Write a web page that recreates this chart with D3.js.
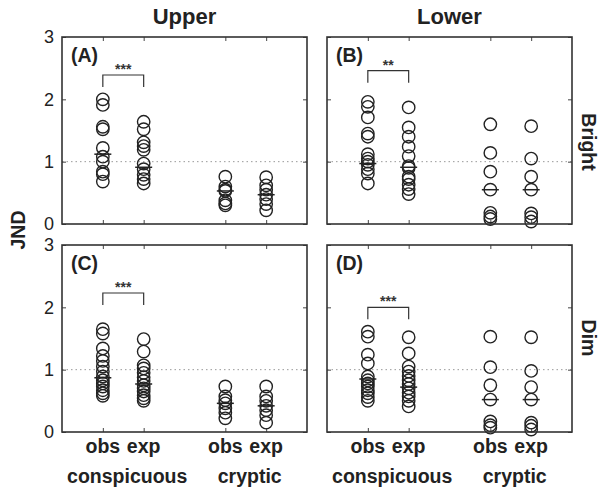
<!DOCTYPE html>
<html>
<head>
<meta charset="utf-8">
<script src="https://cdn.jsdelivr.net/npm/d3@7"></script>
<style>
  body { margin: 0; background: #fff; }
  svg { display: block; font-family: "Liberation Sans", Arial, Helvetica, sans-serif; }
</style>
</head>
<body>
<svg id="chart" width="601" height="491"></svg>
<script>
// ---- data ----
const panelLetters = ["A", "B", "C", "D"];
const colTitles = ["Upper", "Lower"];
const rowTitles = ["Bright", "Dim"];
const rowTitleCenters = [142, 338];
const groupLabels = ["conspicuous", "cryptic"];
const subLabels = ["obs", "exp"];
const yTicks = [0, 1, 2, 3];
const xPositions = [1, 2, 4, 5]; // obs/exp conspicuous, obs/exp cryptic

// each panel: [obs conspicuous, exp conspicuous, obs cryptic, exp cryptic]
const panelA = [
  [2.0, 1.91, 1.56, 1.52, 1.22, 1.08, 1.0, 0.84, 0.80, 0.68],
  [1.64, 1.52, 1.31, 1.25, 1.19, 0.97, 0.88, 0.79, 0.72, 0.65],
  [0.76, 0.60, 0.55, 0.53, 0.38, 0.33, 0.30],
  [0.75, 0.62, 0.55, 0.47, 0.40, 0.32, 0.22]
];
const panelB = [
  [1.96, 1.88, 1.71, 1.45, 1.40, 1.12, 1.05, 1.0, 0.95, 0.88, 0.81, 0.65],
  [1.87, 1.55, 1.40, 1.24, 1.09, 0.93, 0.90, 0.76, 0.72, 0.63, 0.56, 0.48],
  [1.60, 1.14, 0.84, 0.55, 0.18, 0.12, 0.08],
  [1.57, 1.05, 0.76, 0.55, 0.17, 0.11, 0.04]
];
const panelC = [
  [1.65, 1.58, 1.34, 1.22, 1.14, 1.05, 0.97, 0.89, 0.83, 0.78, 0.73, 0.67, 0.62, 0.58],
  [1.49, 1.29, 1.07, 1.02, 0.95, 0.88, 0.82, 0.75, 0.70, 0.65, 0.59, 0.54, 0.50],
  [0.73, 0.57, 0.51, 0.46, 0.38, 0.31, 0.22],
  [0.73, 0.57, 0.50, 0.42, 0.35, 0.27, 0.15]
];
const panelD = [
  [1.61, 1.53, 1.24, 1.10, 0.89, 0.83, 0.78, 0.73, 0.67, 0.62, 0.56, 0.50],
  [1.52, 1.26, 1.05, 0.97, 0.90, 0.83, 0.77, 0.70, 0.63, 0.57, 0.50, 0.41],
  [1.53, 1.04, 0.75, 0.52, 0.17, 0.11, 0.07],
  [1.52, 0.98, 0.72, 0.52, 0.15, 0.10, 0.04]
];
const mediansA = [1.12, 0.91, 0.53, 0.47];
const mediansB = [0.97, 0.91, 0.55, 0.55];
const mediansC = [0.87, 0.77, 0.46, 0.42];
const mediansD = [0.85, 0.72, 0.52, 0.52];
const sigStars = ["***", "**", "***", "***"];
const sigLevels = [2.39, 2.46, 2.23, 2.0];
const referenceLine = 1;

// ---- layout ----
const panelData = [panelA, panelB, panelC, panelD];
const panelMedians = [mediansA, mediansB, mediansC, mediansD];
const colX = [62, 327];
const rowY = [37, 245];
const pw = 245, ph = 187;

const svg = d3.select("#chart");
const x = d3.scaleLinear().domain([0, 6]).range([0, pw]);
const y = d3.scaleLinear().domain([0, 3]).range([ph, 0]);

panelLetters.forEach((letter, i) => {
  const col = i % 2, row = Math.floor(i / 2);
  const g = svg.append("g").attr("transform", `translate(${colX[col]},${rowY[row]})`);

  // dotted reference line
  g.append("line")
    .attr("x1", 0).attr("x2", pw)
    .attr("y1", y(referenceLine)).attr("y2", y(referenceLine))
    .attr("stroke", "#9a9a9a").attr("stroke-width", 1)
    .attr("stroke-dasharray", "1.5,3");

  // inward ticks on all four sides
  const tickStyle = sel => sel.call(s => s.select(".domain").remove())
    .selectAll(".tick line").attr("stroke", "#444").attr("stroke-width", 1);
  g.append("g").attr("transform", `translate(0,${ph})`)
    .call(d3.axisTop(x).tickValues(xPositions).tickSize(4).tickFormat(""))
    .call(tickStyle);
  g.append("g")
    .call(d3.axisBottom(x).tickValues(xPositions).tickSize(4).tickFormat(""))
    .call(tickStyle);
  g.append("g")
    .call(d3.axisRight(y).tickValues(yTicks).tickSize(4).tickFormat(""))
    .call(tickStyle);
  g.append("g").attr("transform", `translate(${pw},0)`)
    .call(d3.axisLeft(y).tickValues(yTicks).tickSize(4).tickFormat(""))
    .call(tickStyle);

  // y tick labels on left column
  if (col === 0) {
    const ya = g.append("g")
      .call(d3.axisLeft(y).tickValues(yTicks).tickSize(0).tickPadding(8).tickFormat(d3.format("d")));
    ya.select(".domain").remove();
    ya.selectAll("text").attr("font-size", 18).attr("fill", "#222")
      .attr("font-family", "'Liberation Sans', Arial, sans-serif");
  }

  // circles
  panelData[i].forEach((vals, j) => {
    g.append("g").selectAll("circle").data(vals).join("circle")
      .attr("cx", x(xPositions[j]))
      .attr("cy", d => y(d))
      .attr("r", 6.2)
      .attr("fill", "none")
      .attr("stroke", "#222")
      .attr("stroke-width", 1.4);
  });

  // medians
  g.append("g").selectAll("line").data(panelMedians[i]).join("line")
    .attr("x1", (d, j) => x(xPositions[j]) - 8.5)
    .attr("x2", (d, j) => x(xPositions[j]) + 8.5)
    .attr("y1", d => y(d)).attr("y2", d => y(d))
    .attr("stroke", "#222").attr("stroke-width", 1.5);

  // significance bracket
  const bx1 = x(xPositions[0]), bx2 = x(xPositions[1]);
  const by = y(sigLevels[i]);
  g.append("path")
    .attr("d", `M${bx1},${by + 12}V${by}H${bx2}V${by + 12}`)
    .attr("fill", "none").attr("stroke", "#333").attr("stroke-width", 1.2);
  g.append("text")
    .attr("x", (bx1 + bx2) / 2).attr("y", by - 1)
    .attr("text-anchor", "middle")
    .attr("font-size", 14).attr("font-weight", "bold").attr("fill", "#333")
    .text(sigStars[i]);

  // panel letter
  g.append("text")
    .attr("x", 9).attr("y", 25)
    .attr("font-size", 19.5).attr("font-weight", "bold").attr("fill", "#222")
    .text(`(${letter})`);

  // frame
  g.append("rect")
    .attr("x", 0).attr("y", 0).attr("width", pw).attr("height", ph)
    .attr("fill", "none").attr("stroke", "#333").attr("stroke-width", 1.6);
});

// column titles
colTitles.forEach((t, c) => {
  svg.append("text")
    .attr("x", colX[c] + pw / 2).attr("y", 24)
    .attr("text-anchor", "middle")
    .attr("font-size", 22).attr("font-weight", "bold").attr("fill", "#222")
    .text(t);
});

// row titles
rowTitles.forEach((t, r) => {
  svg.append("text")
    .attr("transform", `translate(582,${rowTitleCenters[r]}) rotate(90)`)
    .attr("text-anchor", "middle")
    .attr("font-size", 19.5).attr("font-weight", "bold").attr("fill", "#222")
    .text(t);
});

// y axis title
svg.append("text")
  .attr("transform", `translate(25,230) rotate(-90)`)
  .attr("text-anchor", "middle")
  .attr("font-size", 19.5).attr("font-weight", "bold").attr("fill", "#222")
  .text("JND");

// x labels
colX.forEach(cx0 => {
  xPositions.forEach((p, k) => {
    svg.append("text")
      .attr("x", cx0 + x(p)).attr("y", 453)
      .attr("text-anchor", "middle")
      .attr("font-size", 19.5).attr("font-weight", "bold").attr("fill", "#222")
      .text(subLabels[k % 2]);
  });
  groupLabels.forEach((gl, k) => {
    const mid = (x(xPositions[2 * k]) + x(xPositions[2 * k + 1])) / 2;
    svg.append("text")
      .attr("x", cx0 + mid + 4).attr("y", 483)
      .attr("text-anchor", "middle")
      .attr("font-size", 19.5).attr("font-weight", "bold").attr("fill", "#222")
      .text(gl);
  });
});
</script>
</body>
</html>
